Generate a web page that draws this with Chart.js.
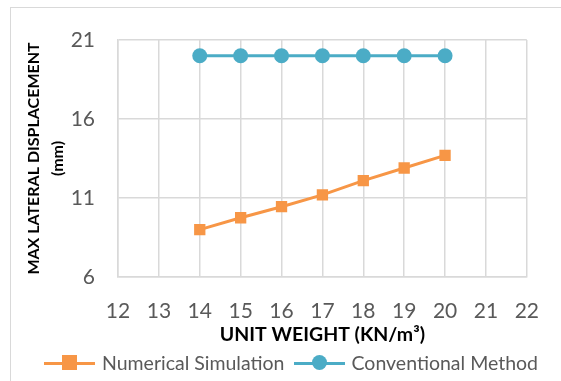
<!DOCTYPE html>
<html>
<head>
<meta charset="utf-8">
<script src="https://cdn.jsdelivr.net/npm/chart.js"></script>
<style>
  html, body { margin: 0; padding: 0; background: #fff; }
  .wrap { position: relative; width: 561px; height: 381px; overflow: hidden; font-family: Lato, "Open Sans", sans-serif; }
  .frame { position: absolute; left: 10px; top: 7px; width: 600px; height: 420px; border: 1px solid #d9d9d9; box-sizing: border-box; }
  canvas { position: absolute; left: 0; top: 0; }
  .legend { position: absolute; left: 44px; top: 351px; margin: 0; padding: 0; list-style: none; display: flex; align-items: center; font-size: 19.5px; color: #595959; line-height: 24px; white-space: nowrap; }
  .legend li { display: flex; align-items: center; margin-right: 9px; }
  .legend .icon { position: relative; width: 51px; height: 16px; margin-right: 7px; }
  .legend .icon::before { content: ""; position: absolute; left: 0; right: 0; top: 6.5px; height: 3px; background: var(--c); }
  .legend .icon::after { content: ""; position: absolute; left: 18px; top: 0; width: 15px; height: 15px; background: var(--c); }
  .legend .icon.circle::after { border-radius: 50%; }
</style>
</head>
<body>
<div class="wrap">
  <div class="frame"></div>
  <canvas class="my-chart" width="561" height="381"></canvas>
  <ul class="legend"></ul>
</div>
<script>
const unitWeight = [14, 15, 16, 17, 18, 19, 20];
const numericalSimulation = [9.0, 9.75, 10.45, 11.2, 12.1, 12.9, 13.7];
const conventionalMethod = [20, 20, 20, 20, 20, 20, 20];
const seriesNames = ["Numerical Simulation", "Conventional Method"];
const xTicks = [12, 22, 1];
const yTicks = [6, 21, 5];

const orange = "#f79646";
const blue = "#4bacc6";
const grey = "#595959";
const gridColor = "#d9d9d9";
const fontName = "Lato, 'Open Sans', sans-serif";

const toPoints = (ys) => unitWeight.map((x, i) => ({ x: x, y: ys[i] }));

const myChart = document.querySelector(".my-chart");

const chart = new Chart(myChart, {
  type: "line",
  data: {
    datasets: [
      {
        label: seriesNames[0],
        data: toPoints(numericalSimulation),
        borderColor: orange,
        backgroundColor: orange,
        borderWidth: 3,
        pointStyle: "rect",
        pointRadius: 8,
        pointBorderWidth: 0,
        marker: "rect",
      },
      {
        label: seriesNames[1],
        data: toPoints(conventionalMethod),
        borderColor: blue,
        backgroundColor: blue,
        borderWidth: 3,
        pointStyle: "circle",
        pointRadius: 7.5,
        pointBorderWidth: 0,
        marker: "circle",
      },
    ],
  },
  options: {
    responsive: false,
    animation: false,
    layout: { padding: { left: 21, right: 31, top: 40, bottom: 35 } },
    plugins: {
      tooltip: { enabled: false },
      legend: { display: false },
    },
    scales: {
      x: {
        type: "linear",
        min: xTicks[0],
        max: xTicks[1],
        afterFit: (scale) => { scale.height = 69; },
        ticks: { stepSize: xTicks[2], color: grey, padding: 22, font: { family: fontName, size: 21 } },
        grid: { color: gridColor, lineWidth: 1.5, drawTicks: false },
        border: { color: gridColor, width: 1.5 },
        title: {
          display: true,
          text: "UNIT WEIGHT (KN/m³)",
          color: "#000",
          padding: { top: 0, bottom: 0 },
          font: { family: fontName, size: 19.5, weight: "bold" },
        },
      },
      y: {
        min: yTicks[0],
        max: yTicks[1],
        afterFit: (scale) => { scale.width = 97; },
        ticks: { stepSize: yTicks[2], color: grey, padding: 23, font: { family: fontName, size: 21 } },
        grid: { color: gridColor, lineWidth: 1.5, drawTicks: false },
        border: { color: gridColor, width: 1.5 },
        title: {
          display: true,
          text: ["MAX LATERAL DISPLACEMENT", "(mm)"],
          color: "#000",
          padding: { top: 0, bottom: 0 },
          font: { family: fontName, size: 16, weight: "bold", lineHeight: 1.55 },
        },
      },
    },
  },
});

// html legend, same look as the excel one: line with the marker on it
const ul = document.querySelector(".legend");
chart.data.datasets.forEach((ds) => {
  let li = document.createElement("li");
  li.innerHTML = `<span class="icon ${ds.marker}" style="--c:${ds.borderColor}"></span><span>${ds.label}</span>`;
  ul.appendChild(li);
});
</script>
</body>
</html>
